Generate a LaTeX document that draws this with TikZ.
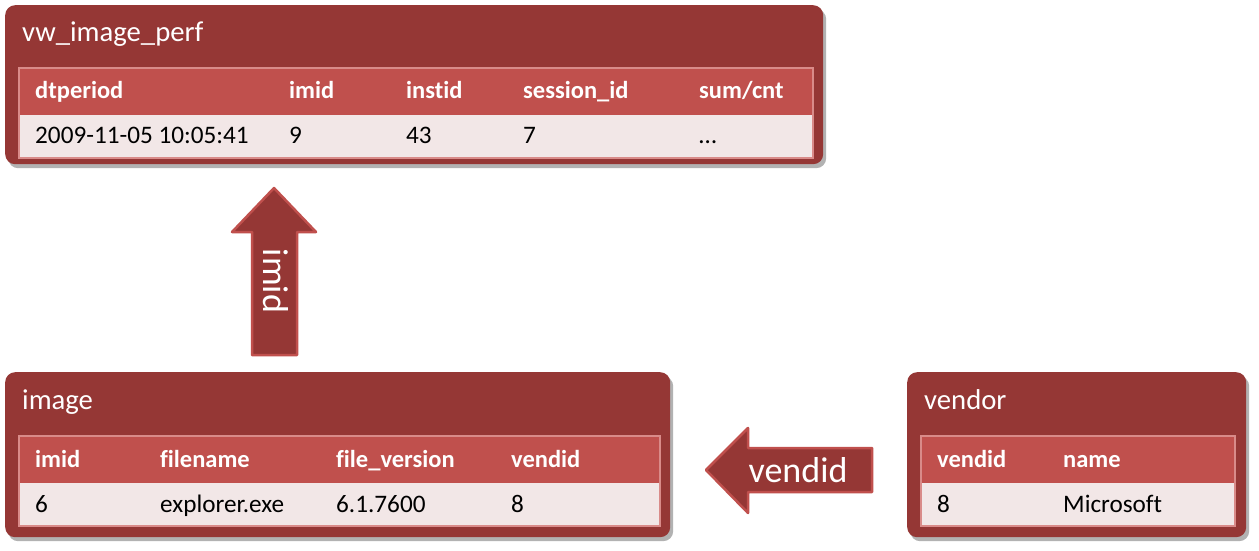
\documentclass[tikz,border=0pt]{standalone}
\usepackage{fontspec}
\setmainfont[Ligatures=NoCommon]{Carlito}
\usetikzlibrary{positioning, shadows}

\definecolor{boxred}{HTML}{953735}
\definecolor{headred}{HTML}{C0504D}
\definecolor{rowpink}{HTML}{F2E7E7}
\definecolor{tableline}{HTML}{D98B89}

\begin{document}
\begin{tikzpicture}[
        x=1pt, y=-1pt,
        tablebox/.style={fill=boxred, rounded corners=10pt, anchor=north west,
            drop shadow={shadow xshift=3pt, shadow yshift=-4pt, opacity=.3, fill=black}},
        titletext/.style={text=white, anchor=base west, font=\fontsize{28.7}{32}\selectfont, inner sep=0pt},
        headtext/.style={text=white, anchor=base west, font=\fontsize{24.5}{28}\selectfont\bfseries, inner sep=0pt},
        celltext/.style={text=black, anchor=base west, font=\fontsize{25.2}{28}\selectfont, inner sep=0pt},
        blockarrow/.style={fill=boxred, draw=headred, line width=2.5pt, line join=round},
        arrowtext/.style={text=white, font=\fontsize{36}{40}\selectfont, inner sep=0pt}
    ]
    \useasboundingbox (0,0) rectangle (1259,551);

    % view box
    \node[tablebox, minimum width=818pt, minimum height=159pt] (perf) at (5,5) {};
    \node[titletext] (perftitle) at (22,42) {vw\_image\_perf};
    \fill[headred] (19,68) rectangle (813,115);
    \fill[rowpink] (19,115) rectangle (813,158);
    \draw[tableline, line width=1.2pt] (19,68) rectangle (813,158);
    \foreach \x/\h/\v in {35/dtperiod/2009-11-05 10:05:41, 289/imid/9, 406/instid/43,
                          523/session\_id/7, 699/{sum/cnt}/…}{
        \node[headtext] (perfh\x) at (\x,99) {\h};
        \node[celltext] (perfv\x) at (\x,143) {\v};
    }

    % image table
    \node[tablebox, minimum width=665pt, minimum height=165pt] (image) at (5,372) {};
    \node[titletext] (imagetitle) at (22,409) {image};
    \fill[headred] (19,436) rectangle (660,483);
    \fill[rowpink] (19,483) rectangle (660,526);
    \draw[tableline, line width=1.2pt] (19,436) rectangle (660,526);
    \foreach \x/\h/\v in {35/imid/6, 160/filename/explorer.exe,
                          336/file\_version/6.1.7600, 511/vendid/8}{
        \node[headtext] (imageh\x) at (\x,467) {\h};
        \node[celltext] (imagev\x) at (\x,512) {\v};
    }

    % vendor table
    \node[tablebox, minimum width=339pt, minimum height=165pt] (vendor) at (907,372) {};
    \node[titletext] (vendortitle) at (924,409) {vendor};
    \fill[headred] (921,436) rectangle (1235,483);
    \fill[rowpink] (921,483) rectangle (1235,526);
    \draw[tableline, line width=1.2pt] (921,436) rectangle (1235,526);
    \foreach \x/\h/\v in {937/vendid/8, 1063/name/Microsoft}{
        \node[headtext] (vendorh\x) at (\x,467) {\h};
        \node[celltext] (vendorv\x) at (\x,512) {\v};
    }

    % join arrows
    \draw[blockarrow] (274,188) -- (316,232) -- (297,232) -- (297,355)
        -- (252,355) -- (252,232) -- (232,232) -- cycle;
    \node[arrowtext, rotate=-90] (imidlabel) at (276,281) {imid};

    \draw[blockarrow] (706,470) -- (748,428) -- (748,448) -- (872,448)
        -- (872,492) -- (748,492) -- (748,513) -- cycle;
    \node[arrowtext] (vendidlabel) at (798,470) {vendid};
\end{tikzpicture}
\end{document}
